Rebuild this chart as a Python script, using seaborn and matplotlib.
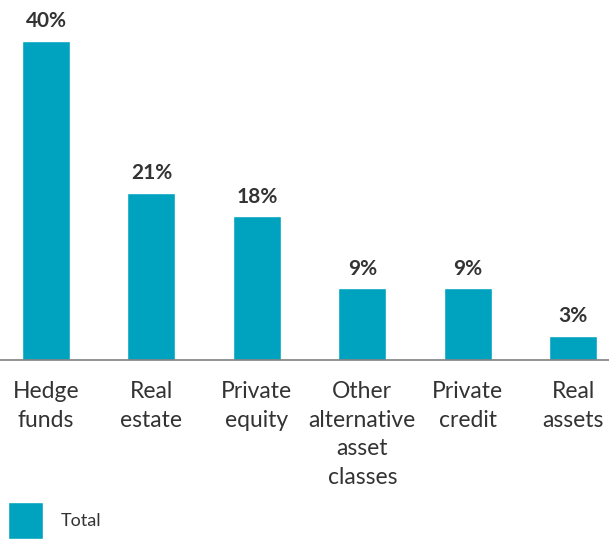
import matplotlib
matplotlib.use("Agg")
import matplotlib.pyplot as plt
import seaborn as sns
import pandas as pd

categories = ["Hedge\nfunds", "Real\nestate", "Private\nequity",
              "Other\nalternative\nasset\nclasses", "Private\ncredit", "Real\nassets"]
values = [40, 21, 18, 9, 9, 3]
series_name = "Total"
bar_color = "#00A3BF"
text_color = "#333333"

df = pd.DataFrame({"category": categories, "value": values, "series": series_name})

sns.set_theme(style="white")
plt.rcParams["font.family"] = ["Lato", "DejaVu Sans"]

fig = plt.figure(figsize=(6.09, 5.39), dpi=100)
ax = fig.add_axes([0, (539 - 360) / 539, 1, 360 / 539])

sns.barplot(data=df, x="category", y="value", hue="series", palette=[bar_color],
            width=0.455, ax=ax, saturation=1, legend=True)

ax.set_xlim(-0.436, 5.34)
ax.set_ylim(0, 360 / 319 * 40)

for i, v in enumerate(values):
    ax.annotate(f"{v}%", (i, v), xytext=(0, 7), textcoords="offset points",
                ha="center", va="bottom", fontsize=15, fontweight="bold", color=text_color)

for s in ["top", "right", "left"]:
    ax.spines[s].set_visible(False)
ax.spines["bottom"].set_color("#808080")
ax.spines["bottom"].set_linewidth(1.2)
ax.set_yticks([])
ax.set_xlabel("")
ax.set_ylabel("")
ax.tick_params(axis="x", length=0, pad=15, labelsize=16.5, labelcolor=text_color)
for lab in ax.get_xticklabels():
    lab.set_linespacing(1.46)

handles, labels = ax.get_legend_handles_labels()
ax.legend(handles, labels, loc="lower left", bbox_to_anchor=(8 / 609, 0),
          bbox_transform=fig.transFigure, frameon=False, fontsize=13,
          handlelength=1.95, handleheight=2.75, handletextpad=0.95,
          borderpad=0, borderaxespad=0, labelcolor=text_color)

fig.savefig("out.png", dpi=100)
